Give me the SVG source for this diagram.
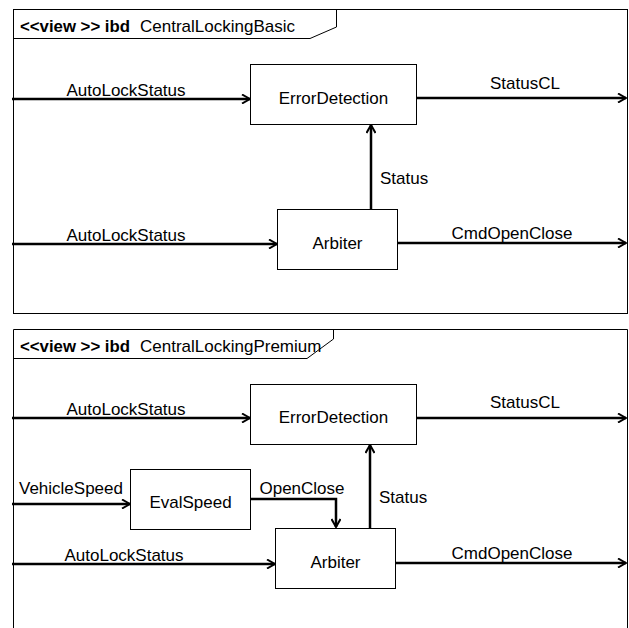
<svg xmlns="http://www.w3.org/2000/svg" width="629" height="628" viewBox="0 0 629 628">
<defs>
<marker id="arr" viewBox="0 0 10 10" refX="9" refY="5" markerWidth="10" markerHeight="10" markerUnits="userSpaceOnUse" orient="auto">
<path d="M1,0.5 L9,5 L1,9.5" fill="none" stroke="#000" stroke-width="2"/>
</marker>
</defs>
<style>
text{font-family:"Liberation Sans",Arial,sans-serif;font-size:17px;fill:#000}
.b{font-weight:bold}
.box{fill:#fff;stroke:#000;stroke-width:1}
.frame{fill:none;stroke:#000;stroke-width:1}
.c{fill:none;stroke:#000;stroke-width:2.5;marker-end:url(#arr)}
</style>
<rect width="629" height="628" fill="#fff"/>
<g id="frame1">
<rect class="frame" x="13.5" y="9.5" width="614" height="304"/>
<path class="frame" d="M13.5,38.5 H310 L336.5,27 V9.5"/>
<text x="20" y="32"><tspan class="b" textLength="110" lengthAdjust="spacingAndGlyphs">&lt;&lt;view &gt;&gt; ibd</tspan><tspan x="140">CentralLockingBasic</tspan></text>
</g>
<g id="frame2">
<path class="frame" d="M13.5,640 V329.5 H627.5 V640"/>
<path class="frame" d="M13.5,358.5 H307 L333.5,339 V329.5"/>
<text x="20" y="351.5"><tspan class="b" textLength="110" lengthAdjust="spacingAndGlyphs">&lt;&lt;view &gt;&gt; ibd</tspan><tspan x="140">CentralLockingPremium</tspan></text>
</g>
<g id="connectors">
<path class="c" d="M12,99 H250"/>
<path class="c" d="M417,98 H626"/>
<path class="c" d="M371,209 V125"/>
<path class="c" d="M12,244 H277"/>
<path class="c" d="M397,243 H626"/>
<path class="c" d="M12,418 H250"/>
<path class="c" d="M417,418 H626"/>
<path class="c" d="M12,504 H130"/>
<path class="c" d="M250,499 H336 V527"/>
<path class="c" d="M370,528 V445"/>
<path class="c" d="M12,564 H275"/>
<path class="c" d="M396,563 H626"/>
<text x="126" y="96" text-anchor="middle">AutoLockStatus</text>
<text x="525" y="89" text-anchor="middle">StatusCL</text>
<text x="380" y="184">Status</text>
<text x="126" y="241" text-anchor="middle">AutoLockStatus</text>
<text x="512" y="239" text-anchor="middle">CmdOpenClose</text>
<text x="126" y="415" text-anchor="middle">AutoLockStatus</text>
<text x="525" y="408" text-anchor="middle">StatusCL</text>
<text x="19" y="494">VehicleSpeed</text>
<text x="302" y="494" text-anchor="middle">OpenClose</text>
<text x="379" y="503">Status</text>
<text x="124" y="561" text-anchor="middle">AutoLockStatus</text>
<text x="512" y="559" text-anchor="middle">CmdOpenClose</text>
</g>
<g id="ErrorDetection1">
<rect class="box" x="250.5" y="64.5" width="166" height="60"/>
<text x="333.5" y="104" text-anchor="middle">ErrorDetection</text>
</g>
<g id="Arbiter1">
<rect class="box" x="277.5" y="209.5" width="120" height="60"/>
<text x="337.5" y="249" text-anchor="middle">Arbiter</text>
</g>
<g id="ErrorDetection2">
<rect class="box" x="250.5" y="384.5" width="166" height="60"/>
<text x="333.5" y="423" text-anchor="middle">ErrorDetection</text>
</g>
<g id="EvalSpeed">
<rect class="box" x="130.5" y="469.5" width="120" height="60"/>
<text x="190.5" y="508" text-anchor="middle">EvalSpeed</text>
</g>
<g id="Arbiter2">
<rect class="box" x="275.5" y="528.5" width="120" height="60"/>
<text x="335.5" y="568" text-anchor="middle">Arbiter</text>
</g>
</svg>
